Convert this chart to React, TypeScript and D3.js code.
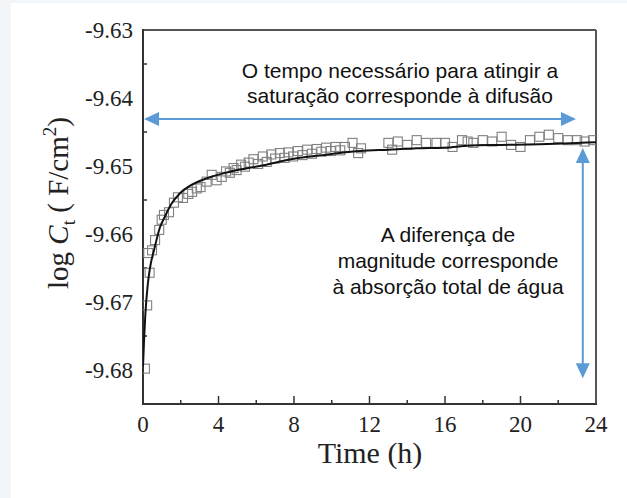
import React from "react";
import * as d3 from "d3";

// Fitted curve (black line)
const fitTimes = [0, 0.05, 0.12, 0.25, 0.37, 0.6, 0.9, 1.15, 1.5, 2.0, 2.5, 3.0, 3.5, 4.1, 5.0, 6.4, 7.5, 8.3, 9.5, 10.4, 11.5, 13, 14.5, 16, 17.3, 19, 21, 23, 24];
const fitValues = [-9.6795, -9.676, -9.672, -9.6675, -9.665, -9.6622, -9.659, -9.6575, -9.6556, -9.6539, -9.6529, -9.6522, -9.6517, -9.6512, -9.6506, -9.6499, -9.6492, -9.6488, -9.6484, -9.6481, -9.6478, -9.6476, -9.6474, -9.6473, -9.647, -9.6469, -9.6468, -9.6466, -9.6465];

// Measured points (open squares)
const pointTimes = [0.1, 0.22, 0.35, 0.28, 0.48, 0.64, 0.86, 0.99, 1.11, 1.38, 1.64, 1.85, 2.12, 2.4, 2.6, 2.85, 3.05, 3.37, 3.64, 3.9, 4.17, 4.4, 4.6, 4.8, 4.96, 5.2, 5.4,
  5.6, 5.85, 6.1, 6.35, 6.55, 6.8, 7.0, 7.25, 7.5, 7.7, 7.95, 8.2, 8.45, 8.7, 8.95, 9.2, 9.45, 9.7, 9.95, 10.2, 10.45, 10.7, 11.1, 11.4, 11.55,
  13.0, 13.2, 13.5, 14.0, 14.5, 15.0, 15.55, 16.0, 16.4, 16.9, 17.2, 17.5, 18.0, 18.5, 19.0, 19.5, 20.0, 20.5, 21.0, 21.5, 22.0, 22.5, 23.0, 23.4, 23.85];
const pointValues = [-9.6798, -9.6705, -9.6657, -9.6628, -9.6624, -9.6609, -9.6594, -9.6579, -9.6572, -9.6568, -9.6554, -9.6546, -9.6547, -9.6541, -9.6538, -9.6533, -9.6531, -9.6523, -9.6513, -9.6521, -9.6516, -9.6508, -9.651, -9.6503, -9.6506, -9.6498, -9.6501,
  -9.6495, -9.649, -9.6497, -9.6486, -9.6494, -9.6483, -9.6489, -9.6481, -9.6488, -9.648, -9.6486, -9.6478, -9.6484, -9.6476, -9.6482, -9.6475, -9.6479, -9.6473, -9.6478, -9.6472, -9.6477, -9.6472, -9.6466, -9.6481, -9.6474,
  -9.6466, -9.6476, -9.6464, -9.6469, -9.6462, -9.6466, -9.6466, -9.6466, -9.6472, -9.6462, -9.6464, -9.6466, -9.6462, -9.6464, -9.6457, -9.6469, -9.6472, -9.6462, -9.6457, -9.6454, -9.6459, -9.6462, -9.6462, -9.6464, -9.6462];

const xMajorTicks = [0, 4, 8, 12, 16, 20, 24];
const xMinorTicks = [2, 6, 10, 14, 18, 22];
const yMajorTicks = [-9.63, -9.64, -9.65, -9.66, -9.67, -9.68];
const yMinorTicks = [-9.635, -9.645, -9.655, -9.665, -9.675];

const topNoteLines = ["O tempo necessário para atingir a", "saturação corresponde à difusão"];
const sideNoteLines = ["A diferença de", "magnitude corresponde", "à absorção total de água"];

// annotation arrows in data coordinates
const hArrow = { t0: 0, t1: 22.94, v: -9.6431 };
const vArrow = { t: 23.3, v0: -9.64735, v1: -9.6812 };

const W = 627;
const H = 498;
const M = { left: 143, right: 596, top: 30, bottom: 404 };
const BLUE = "#5b9bd5";

export default function App() {
  const x = d3.scaleLinear().domain([0, 24]).range([M.left, M.right]);
  const y = d3.scaleLinear().domain([-9.685, -9.63]).range([M.bottom, M.top]);

  const fitData = fitTimes.map((t, i) => [t, fitValues[i]] as [number, number]);
  const line = d3
    .line<[number, number]>()
    .x((d) => x(d[0]))
    .y((d) => y(d[1]))
    .curve(d3.curveMonotoneX);

  const sq = 9;
  const serif = "'Liberation Serif', 'Times New Roman', serif";
  const sans = "'Liberation Sans', Arial, sans-serif";

  const hy = y(hArrow.v);
  const hx0 = x(hArrow.t0) + 1;
  const hx1 = x(hArrow.t1);
  const vx = x(vArrow.t);
  const vy0 = y(vArrow.v0);
  const vy1 = y(vArrow.v1);
  const ah = 15;
  const aw = 7;

  return (
    <svg
      width={W}
      height={H}
      style={{ position: "absolute", left: 0, top: 0, display: "block" }}
    >
      <rect x={0} y={0} width={W} height={H} fill="#f2f6f9" />
      <rect x={11} y={3} width={W - 11} height={H - 3} fill="#ffffff" />

      {/* frame */}
      <line x1={M.left} x2={M.right} y1={M.top} y2={M.top} stroke="#555" strokeWidth={2} />
      <line x1={M.right} x2={M.right} y1={M.top} y2={M.bottom} stroke="#555" strokeWidth={2} />
      <line x1={M.left} x2={M.left} y1={M.top - 1} y2={M.bottom + 1} stroke="#333" strokeWidth={2} />
      <line x1={M.left - 1} x2={M.right + 1} y1={M.bottom} y2={M.bottom} stroke="#333" strokeWidth={2} />

      {/* ticks */}
      {xMajorTicks.map((t) => (
        <g key={"xt" + t}>
          {t > 0 && t < 24 && (
            <line x1={x(t)} x2={x(t)} y1={M.bottom} y2={M.bottom - 8} stroke="#333" strokeWidth={1.5} />
          )}
          <text x={x(t)} y={432} textAnchor="middle" fontFamily={serif} fontSize={23} fill="#222">
            {t}
          </text>
        </g>
      ))}
      {xMinorTicks.map((t) => (
        <line key={"xm" + t} x1={x(t)} x2={x(t)} y1={M.bottom} y2={M.bottom - 4} stroke="#333" strokeWidth={1.5} />
      ))}
      {yMajorTicks.map((v) => (
        <g key={"yt" + v}>
          {v > -9.63 && (
            <line x1={M.left} x2={M.left + 8} y1={y(v)} y2={y(v)} stroke="#333" strokeWidth={1.5} />
          )}
          <text x={133} y={y(v) + 8} textAnchor="end" fontFamily={serif} fontSize={23} fill="#222">
            {v.toFixed(2)}
          </text>
        </g>
      ))}
      {yMinorTicks.map((v) => (
        <line key={"ym" + v} x1={M.left} x2={M.left + 4} y1={y(v)} y2={y(v)} stroke="#333" strokeWidth={1.5} />
      ))}

      {/* axis titles */}
      <text x={370} y={463} textAnchor="middle" fontFamily={serif} fontSize={30} fill="#222">
        Time (h)
      </text>
      <text transform="translate(68,203) rotate(-90)" textAnchor="middle" fontFamily={serif} fontSize={29} fill="#222">
        {"log "}
        <tspan fontStyle="italic">C</tspan>
        <tspan dy={7} fontSize={19}>t</tspan>
        <tspan dy={-7}>{" ( F/cm"}</tspan>
        <tspan dy={-12} fontSize={19}>2</tspan>
        <tspan dy={12}>)</tspan>
      </text>

      {/* data */}
      <g clipPath="url(#plotclip)">
        {pointTimes.map((t, i) => (
          <rect
            key={"p" + i}
            x={x(t) - sq / 2}
            y={y(pointValues[i]) - sq / 2}
            width={sq}
            height={sq}
            fill="none"
            stroke="#808080"
            strokeWidth={1.1}
          />
        ))}
        <path d={line(fitData) || ""} fill="none" stroke="#111" strokeWidth={2} />
      </g>
      <defs>
        <clipPath id="plotclip">
          <rect x={M.left} y={M.top} width={M.right - M.left} height={M.bottom - M.top} />
        </clipPath>
      </defs>

      {/* annotations */}
      <line x1={hx0 + ah - 1} x2={hx1 - ah + 1} y1={hy} y2={hy} stroke={BLUE} strokeWidth={2} />
      <path d={`M${hx0},${hy} L${hx0 + ah},${hy - aw} L${hx0 + ah},${hy + aw} Z`} fill={BLUE} />
      <path d={`M${hx1},${hy} L${hx1 - ah},${hy - aw} L${hx1 - ah},${hy + aw} Z`} fill={BLUE} />

      <line x1={vx} x2={vx} y1={vy0 + ah - 1} y2={vy1 - ah + 1} stroke={BLUE} strokeWidth={2} />
      <path d={`M${vx},${vy0} L${vx - aw},${vy0 + ah} L${vx + aw},${vy0 + ah} Z`} fill={BLUE} />
      <path d={`M${vx},${vy1} L${vx - aw},${vy1 - ah} L${vx + aw},${vy1 - ah} Z`} fill={BLUE} />

      {topNoteLines.map((s, i) => (
        <text key={"tn" + i} x={400} y={78 + i * 25} textAnchor="middle" fontFamily={sans} fontSize={21} fill="#111">
          {s}
        </text>
      ))}
      {sideNoteLines.map((s, i) => (
        <text key={"sn" + i} x={448} y={242 + i * 26} textAnchor="middle" fontFamily={sans} fontSize={21} fill="#111">
          {s}
        </text>
      ))}
    </svg>
  );
}
